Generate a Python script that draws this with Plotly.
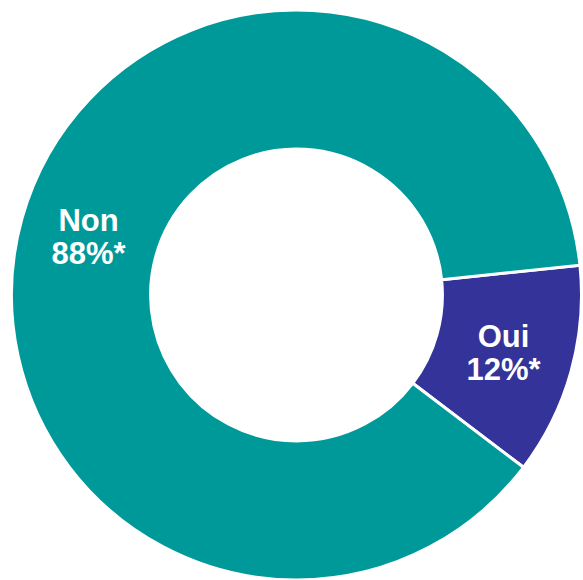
import plotly.graph_objects as go

# Survey answers and their shares (%)
labels = ["Oui", "Non"]
values = [12, 88]
colors = ["#333399", "#009999"]

fig = go.Figure(
    go.Pie(
        labels=labels,
        values=values,
        hole=0.512,
        sort=False,
        direction="clockwise",
        rotation=84,
        marker=dict(colors=colors, line=dict(color="white", width=3)),
        # base size sets the line spacing, the inner span sets the glyph size
        texttemplate='<span style="font-size:31px"><b>%{label}</b></span><br>'
                     '<span style="font-size:31px"><b>%{value}%*</b></span>',
        textposition="inside",
        insidetextorientation="horizontal",
        textfont=dict(family="Liberation Sans, Arial, sans-serif", size=26, color="white"),
        hoverinfo="label+percent",
        showlegend=False,
    )
)

fig.update_layout(
    width=583,
    height=580,
    margin=dict(l=10, r=0, t=10, b=0),
    paper_bgcolor="white",
    plot_bgcolor="white",
    showlegend=False,
)

fig.write_html("out.html")
